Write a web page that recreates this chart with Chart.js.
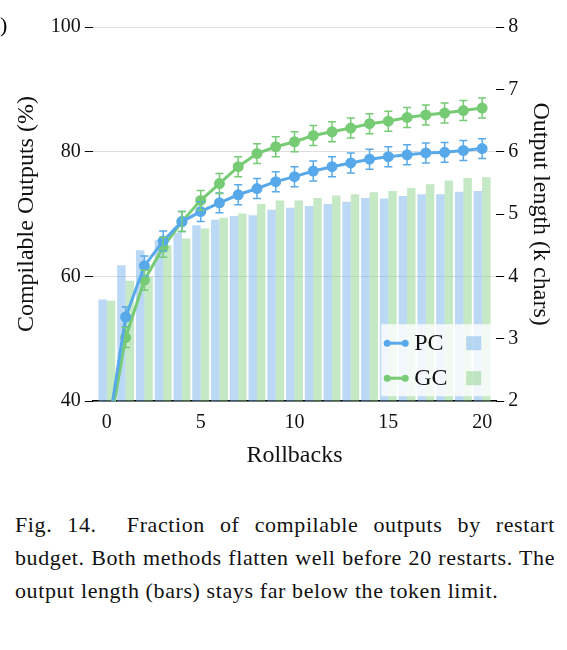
<!DOCTYPE html>
<html><head><meta charset="utf-8">
<script src="https://cdn.jsdelivr.net/npm/chart.js@4"></script>
<style>
body{margin:0;background:#fff;width:567px;height:650px;overflow:hidden;position:relative}
#wrap{position:absolute;left:0;top:0;width:567px;height:474px}
#cap{position:absolute;left:15px;top:508px;width:540px;font-family:"Liberation Serif",serif;font-size:22px;letter-spacing:0.6px;line-height:33px;text-align:justify;color:#111}
#paren{position:absolute;left:0;top:12px;font-family:"Liberation Serif",serif;font-size:22px}
</style></head><body>
<div id="wrap"><canvas id="c"></canvas></div>
<div id="paren">)</div>
<div id="cap">Fig. 14.&nbsp; Fraction of compilable outputs by restart budget. Both methods flatten well before 20 restarts. The output length (bars) stays far be&shy;low the token limit.</div>
<script>
const rollbacks=[0,1,2,3,4,5,6,7,8,9,10,11,12,13,14,15,16,17,18,19,20];
const pcRate=[34,53.5,61.7,65.7,68.8,70.4,71.8,73.1,74.1,75.2,76.0,76.9,77.6,78.2,78.8,79.2,79.5,79.8,79.9,80.2,80.5];
const gcRate=[33,50.2,59.4,64.7,68.8,72.2,74.9,77.6,79.7,80.8,81.6,82.6,83.2,83.8,84.5,84.9,85.5,85.9,86.2,86.6,87.0];
const pcErr=[1.6,1.6,1.6,1.6,1.6,1.6,1.6,1.6,1.6,1.6,1.6,1.6,1.6,1.6,1.6,1.6,1.6,1.6,1.6,1.6,1.6];
const gcErr=[1.6,1.6,1.6,1.6,1.6,1.6,1.6,1.6,1.6,1.6,1.6,1.6,1.6,1.6,1.6,1.6,1.6,1.6,1.6,1.6,1.6];
const pcLen=[3.63,4.18,4.42,4.59,4.70,4.82,4.91,4.97,4.98,5.07,5.10,5.13,5.16,5.20,5.26,5.25,5.29,5.32,5.32,5.36,5.37];
const gcLen=[3.61,3.93,4.0,4.50,4.61,4.77,4.94,5.01,5.16,5.22,5.22,5.26,5.30,5.32,5.35,5.37,5.42,5.48,5.54,5.58,5.59];
const BLUE='#58a9ea',GREEN='#76cb74',BLUEL='rgba(120,180,235,0.5)',GREENL='rgba(140,210,140,0.5)';
const F="'Liberation Serif', serif";
const pts=a=>a.map((v,i)=>({x:rollbacks[i],y:v}));
const errPlugin={id:'err',afterDatasetsDraw(ch){
  const ctx=ch.ctx,x=ch.scales.x,y=ch.scales.y;
  [[pcRate,pcErr,BLUE,0],[gcRate,gcErr,GREEN,1]].forEach(([v,e,c,di])=>{
    ctx.save();ctx.beginPath();ctx.rect(ch.chartArea.left,ch.chartArea.top,ch.chartArea.width,ch.chartArea.height);ctx.clip();
    ctx.strokeStyle=c;ctx.lineWidth=1.5;
    v.forEach((val,i)=>{const px=x.getPixelForValue(rollbacks[i]),t=y.getPixelForValue(val+e[i]),b=y.getPixelForValue(val-e[i]);
      ctx.beginPath();ctx.moveTo(px,t);ctx.lineTo(px,b);ctx.moveTo(px-4,t);ctx.lineTo(px+4,t);ctx.moveTo(px-4,b);ctx.lineTo(px+4,b);ctx.stroke();});
    ctx.restore();});
  const ca=ch.chartArea;const lx=ca.right-115,ly=ca.bottom-77;
  ctx.save();ctx.fillStyle='rgba(255,255,255,0.8)';ctx.fillRect(lx,ly,110,72);
  ctx.font="24px "+F;ctx.textBaseline='middle';
  [['PC',BLUE,BLUEL,ly+19],['GC',GREEN,GREENL,ly+54]].forEach(([t,c,cl,yy])=>{
    ctx.strokeStyle=c;ctx.lineWidth=3;ctx.beginPath();ctx.moveTo(lx+5,yy);ctx.lineTo(lx+25,yy);ctx.stroke();
    ctx.fillStyle=c;[lx+6,lx+24].forEach(cx=>{ctx.beginPath();ctx.arc(cx,yy,3.5,0,7);ctx.fill();});
    ctx.fillStyle='#111';ctx.fillText(t,lx+33,yy+1);
    ctx.fillStyle=cl;ctx.fillRect(lx+85,yy-7,15,14);});
  ctx.restore();}};
new Chart(document.getElementById('c'),{
  data:{datasets:[
    {type:'line',data:pts(pcRate),borderColor:BLUE,backgroundColor:BLUE,borderWidth:3,pointRadius:4,yAxisID:'y',order:0},
    {type:'line',data:pts(gcRate),borderColor:GREEN,backgroundColor:GREEN,borderWidth:3,pointRadius:4,yAxisID:'y',order:0},
    {type:'bar',data:pts(pcLen),backgroundColor:BLUEL,yAxisID:'y2',barPercentage:1,categoryPercentage:0.9,order:1},
    {type:'bar',data:pts(gcLen),backgroundColor:GREENL,yAxisID:'y2',barPercentage:1,categoryPercentage:0.9,order:1}]},
  options:{responsive:true,maintainAspectRatio:false,animation:false,
    layout:{padding:{top:27,right:8,left:8,bottom:0}},
    plugins:{legend:{display:false},tooltip:{enabled:false}},
    scales:{
      x:{type:'linear',min:-0.75,max:20.75,offset:false,
        afterBuildTicks:s=>{s.ticks=[0,5,10,15,20].map(v=>({value:v}));},
        grid:{display:false,drawTicks:true,tickLength:6,color:'#000'},border:{color:'#000',width:1.5},
        ticks:{color:'#111',font:{family:F,size:20},padding:4},
        title:{display:true,text:'Rollbacks',color:'#111',font:{family:F,size:24},padding:{top:2}}},
      y:{position:'left',min:40,max:100,afterBuildTicks:s=>{s.ticks=[40,60,80,100].map(v=>({value:v}));},
        grid:{color:'#dddddd',tickColor:'#000',tickLength:8},border:{display:false},
        ticks:{color:'#111',font:{family:F,size:20},padding:4},
        title:{display:true,text:'Compilable Outputs (%)',color:'#111',font:{family:F,size:24},padding:{bottom:6}}},
      y2:{position:'right',min:2,max:8,ticks:{stepSize:1,color:'#111',font:{family:F,size:20},padding:4},
        grid:{drawOnChartArea:false,tickColor:'#000',tickLength:8},border:{display:false},
        title:{display:true,text:'Output length (k chars)',color:'#111',font:{family:F,size:24},padding:{top:4}}}}},
  plugins:[errPlugin]});
</script></body></html>
